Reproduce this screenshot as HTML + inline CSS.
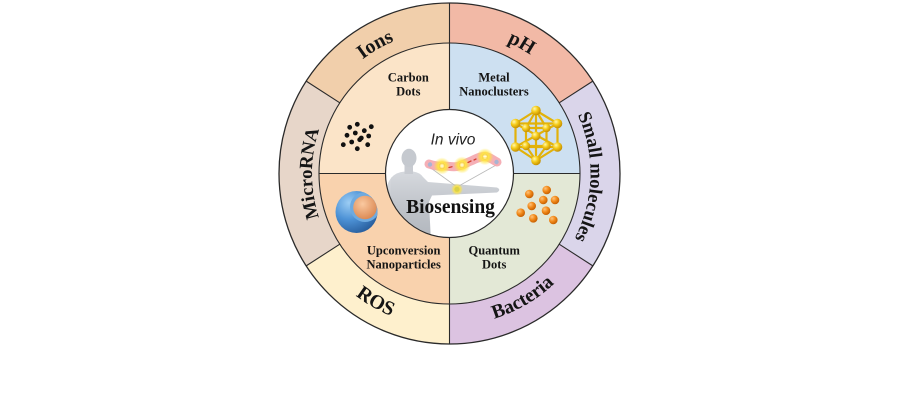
<!DOCTYPE html>
<html><head><meta charset="utf-8"><style>
html,body{margin:0;padding:0;background:#fff;}
svg{display:block;}
</style></head><body>
<svg width="900" height="400" viewBox="0 0 900 400" xmlns="http://www.w3.org/2000/svg">
<defs>
  <path id="pIons" d="M 449.5 317 A 143.5 143.5 0 0 1 449.5 30 A 143.5 143.5 0 0 1 449.5 317"/>
  <path id="pMicro" d="M 449.5 311 A 137.5 137.5 0 0 1 449.5 36 A 137.5 137.5 0 0 1 449.5 311"/>
  <path id="pSmall" d="M 449.5 314.5 A 141 141 0 0 1 449.5 32.5 A 141 141 0 0 1 449.5 314.5"/>
  <path id="pRos" d="M 449.5 19.5 A 154 154 0 0 0 449.5 327.5 A 154 154 0 0 0 449.5 19.5"/>
  <path id="pBact" d="M 449.5 21.5 A 152 152 0 0 0 449.5 325.5 A 152 152 0 0 0 449.5 21.5"/>
  <clipPath id="innerClip"><circle cx="449.5" cy="173.5" r="63.5"/></clipPath>
  <clipPath id="sphClip"><circle cx="356.5" cy="212" r="21"/></clipPath>
  <radialGradient id="gold" cx="35%" cy="32%" r="70%"><stop offset="0" stop-color="#fff8b0"/><stop offset="0.45" stop-color="#f6cd1c"/><stop offset="1" stop-color="#c48e00"/></radialGradient>
  <radialGradient id="orng" cx="35%" cy="32%" r="70%"><stop offset="0" stop-color="#ffc27a"/><stop offset="0.5" stop-color="#f28a1a"/><stop offset="1" stop-color="#c65e00"/></radialGradient>
  <radialGradient id="blue" cx="32%" cy="28%" r="80%"><stop offset="0" stop-color="#9ccdf4"/><stop offset="0.5" stop-color="#4d92d6"/><stop offset="1" stop-color="#265b9a"/></radialGradient>
  <radialGradient id="core" cx="40%" cy="35%" r="70%"><stop offset="0" stop-color="#fac9a0"/><stop offset="1" stop-color="#da8650"/></radialGradient>
  <radialGradient id="glow"><stop offset="0" stop-color="#fff8b0"/><stop offset="0.45" stop-color="#ffe53c" stop-opacity="0.95"/><stop offset="1" stop-color="#ffe53c" stop-opacity="0"/></radialGradient>
  <linearGradient id="body" x1="0" y1="0" x2="0" y2="1"><stop offset="0" stop-color="#d6d9de"/><stop offset="0.5" stop-color="#c0c4ca"/><stop offset="1" stop-color="#b0b5bc"/></linearGradient>
</defs>

<!-- outer ring wedges -->
<path d="M449.5 173.5 L449.5 3 A170.5 170.5 0 0 0 306.18 81.14 Z" fill="#f1cfab"/>
<path d="M449.5 173.5 L306.18 81.14 A170.5 170.5 0 0 0 306.18 265.86 Z" fill="#e7d6c9"/>
<path d="M449.5 173.5 L306.18 265.86 A170.5 170.5 0 0 0 449.5 344 Z" fill="#fef0cd"/>
<path d="M449.5 173.5 L449.5 344 A170.5 170.5 0 0 0 592.82 265.86 Z" fill="#dcc3e1"/>
<path d="M449.5 173.5 L592.82 265.86 A170.5 170.5 0 0 0 592.82 81.14 Z" fill="#dad5ea"/>
<path d="M449.5 173.5 L592.82 81.14 A170.5 170.5 0 0 0 449.5 3 Z" fill="#f2b9a6"/>

<!-- middle ring quarters -->
<path d="M449.5 173.5 L449.5 43 A130.5 130.5 0 0 0 319 173.5 Z" fill="#fbe4c8"/>
<path d="M449.5 173.5 L319 173.5 A130.5 130.5 0 0 0 449.5 304 Z" fill="#f9d2ad"/>
<path d="M449.5 173.5 L449.5 304 A130.5 130.5 0 0 0 580 173.5 Z" fill="#e3e8d6"/>
<path d="M449.5 173.5 L580 173.5 A130.5 130.5 0 0 0 449.5 43 Z" fill="#cde0f1"/>

<!-- inner circle -->
<circle cx="449.5" cy="173.5" r="64" fill="#ffffff"/>

<!-- carbon dots -->
<g fill="#111">
<circle cx="349.7" cy="127.3" r="2.4"/><circle cx="357.3" cy="124.3" r="2.4"/><circle cx="371.3" cy="126.7" r="2.4"/>
<circle cx="364.3" cy="130.7" r="2.4"/><circle cx="355.3" cy="133" r="2.4"/><circle cx="347" cy="135.3" r="2.4"/>
<circle cx="361.3" cy="138" r="2.4"/><circle cx="368.7" cy="136" r="2.4"/><circle cx="343.3" cy="144.7" r="2.4"/>
<circle cx="351.7" cy="142" r="2.4"/><circle cx="359.7" cy="139.7" r="2.4"/><circle cx="367.7" cy="144.7" r="2.4"/>
<circle cx="357.3" cy="148.7" r="2.4"/>
</g>

<!-- gold nanocluster -->
<g stroke="#e2b20a" stroke-width="2.2" stroke-linecap="round">
<line x1="536" y1="110.5" x2="515.5" y2="123.5"/><line x1="536" y1="110.5" x2="557.5" y2="123.5"/>
<line x1="536" y1="110.5" x2="526" y2="128"/><line x1="536" y1="110.5" x2="546.5" y2="128"/>
<line x1="536" y1="110.5" x2="536" y2="160.5"/>
<line x1="515.5" y1="123.5" x2="515.5" y2="147"/><line x1="557.5" y1="123.5" x2="557.5" y2="147"/>
<line x1="515.5" y1="123.5" x2="557.5" y2="147"/><line x1="557.5" y1="123.5" x2="515.5" y2="147"/>
<line x1="515.5" y1="123.5" x2="557.5" y2="123.5"/><line x1="515.5" y1="147" x2="557.5" y2="147"/>
<line x1="515.5" y1="147" x2="536" y2="160.5"/><line x1="557.5" y1="147" x2="536" y2="160.5"/>
<line x1="526" y1="128" x2="526" y2="146"/><line x1="546.5" y1="128" x2="546.5" y2="146"/>
<line x1="526" y1="146" x2="536" y2="160.5"/><line x1="546.5" y1="146" x2="536" y2="160.5"/>
<line x1="526" y1="128" x2="546.5" y2="128"/><line x1="526" y1="146" x2="546.5" y2="146"/>
</g>
<g fill="url(#gold)">
<circle cx="526" cy="128" r="4.2"/><circle cx="546.5" cy="128" r="4.2"/>
<circle cx="526" cy="146" r="4.2"/><circle cx="546.5" cy="146" r="4.2"/>
<circle cx="536" cy="136" r="4.5"/>
<circle cx="536" cy="110.5" r="4.8"/><circle cx="515.5" cy="123.5" r="4.8"/><circle cx="557.5" cy="123.5" r="4.8"/>
<circle cx="515.5" cy="147" r="4.8"/><circle cx="557.5" cy="147" r="4.8"/><circle cx="536" cy="160.5" r="4.8"/>
</g>

<!-- quantum dots -->
<g fill="url(#orng)">
<circle cx="546.7" cy="190" r="4.3"/><circle cx="529.3" cy="194" r="4.3"/><circle cx="543.3" cy="200" r="4.3"/>
<circle cx="555" cy="200" r="4.3"/><circle cx="531.7" cy="206" r="4.3"/><circle cx="546" cy="210.7" r="4.3"/>
<circle cx="520.7" cy="212.7" r="4.3"/><circle cx="533.3" cy="218.3" r="4.3"/><circle cx="553.3" cy="220" r="4.3"/>
</g>

<!-- UCNP sphere -->
<circle cx="356.5" cy="212" r="21" fill="url(#blue)"/>
<g clip-path="url(#sphClip)">
  <circle cx="365" cy="207" r="15" fill="#6eaae0"/>
  <circle cx="365" cy="207.5" r="11.8" fill="url(#core)"/>
</g>

<!-- human figure & chain -->
<g clip-path="url(#innerClip)">
  <path d="M392 177 Q386 183 386 196 L384 242 L395 242 L396 200 Z" fill="url(#body)"/>
  <path d="M391 178 Q396 172 405 171.5 L413 171.5 Q420 172.5 423 177 L428 182 L497 187.5 Q501.5 189.8 497 192.5 L432 195.5 L429 202 L431 242 L389 242 L391 208 Z" fill="url(#body)"/>
  <rect x="404.5" y="164" width="8.5" height="10" fill="#c8cbd1"/>
  <ellipse cx="409" cy="158" rx="7.5" ry="9.2" fill="#c5c9cf"/>
  <path d="M428 166 L457 187 L498 164" fill="none" stroke="#b9b9b9" stroke-width="0.8"/>
  <circle cx="457" cy="189.3" r="6" fill="url(#glow)"/>
  <circle cx="457" cy="189.3" r="2.6" fill="#d9d04a"/>
  <path d="M429 164 C435 166 438 166.5 442 166 S452 167.5 457 166.5 S466 163 471 161 S480 156 485 156.5 S493 160 497 162" fill="none" stroke="#f4a6ae" stroke-width="9" stroke-linecap="round" opacity="0.9"/>
  <circle cx="442" cy="166" r="8.5" fill="url(#glow)"/>
  <circle cx="462" cy="165" r="8.5" fill="url(#glow)"/>
  <circle cx="485" cy="156.7" r="8.5" fill="url(#glow)"/>
  <g fill="#ffe56a" stroke="#f1c84a" stroke-width="0.6">
    <circle cx="442" cy="166" r="2.8"/><circle cx="462" cy="165" r="2.8"/><circle cx="485" cy="156.7" r="2.8"/>
  </g>
  <g stroke="#fff" stroke-width="0.7">
    <line x1="440.3" y1="166" x2="443.7" y2="166"/><line x1="442" y1="164.3" x2="442" y2="167.7"/>
    <line x1="460.3" y1="165" x2="463.7" y2="165"/><line x1="462" y1="163.3" x2="462" y2="166.7"/>
    <line x1="483.3" y1="156.7" x2="486.7" y2="156.7"/><line x1="485" y1="155" x2="485" y2="158.4"/>
  </g>
  <g stroke="#d5402f" stroke-width="1.3" stroke-linecap="round">
    <line x1="449" y1="167.5" x2="452" y2="166.8"/><line x1="468" y1="162.5" x2="471" y2="161"/><line x1="474" y1="160" x2="476" y2="159"/>
  </g>
  <circle cx="430" cy="164.5" r="2.2" fill="#a9b4d2"/>
  <circle cx="496.5" cy="162" r="2.2" fill="#a9b4d2"/>
</g>

<!-- lines -->
<g fill="none" stroke="#2a2a2a">
  <circle cx="449.5" cy="173.5" r="170.5" stroke-width="1.3"/>
  <circle cx="449.5" cy="173.5" r="130.5" stroke-width="1.1"/>
  <circle cx="449.5" cy="173.5" r="64" stroke-width="1.2"/>
  <line x1="449.5" y1="3" x2="449.5" y2="109.5" stroke-width="1.1"/>
  <line x1="449.5" y1="237.5" x2="449.5" y2="344" stroke-width="1.1"/>
  <line x1="319" y1="173.5" x2="385.5" y2="173.5" stroke-width="1.1"/>
  <line x1="513.5" y1="173.5" x2="580" y2="173.5" stroke-width="1.1"/>
  <line x1="306.18" y1="81.14" x2="339.8" y2="102.81" stroke-width="1.1"/>
  <line x1="306.18" y1="265.86" x2="339.8" y2="244.19" stroke-width="1.1"/>
  <line x1="592.82" y1="81.14" x2="559.2" y2="102.81" stroke-width="1.1"/>
  <line x1="592.82" y1="265.86" x2="559.2" y2="244.19" stroke-width="1.1"/>
</g>

<!-- outer ring labels -->
<g font-family="'Liberation Serif', serif" font-weight="bold" fill="#151515" text-anchor="middle">
  <text font-size="20"><textPath href="#pIons" startOffset="41.67%">Ions</textPath></text>
  <text font-size="20"><textPath href="#pIons" startOffset="58.06%">pH</textPath></text>
  <text font-size="18.8"><textPath href="#pMicro" startOffset="25%">MicroRNA</textPath></text>
  <text font-size="18.7"><textPath href="#pSmall" startOffset="75.4%">Small molecules</textPath></text>
  <text font-size="20"><textPath href="#pRos" startOffset="41.67%">ROS</textPath></text>
  <text font-size="19.5"><textPath href="#pBact" startOffset="58.44%">Bacteria</textPath></text>
</g>

<!-- middle ring labels -->
<g font-family="'Liberation Serif', serif" font-weight="bold" font-size="12.5" fill="#151515" text-anchor="middle">
  <text x="408.3" y="81.3">Carbon</text>
  <text x="408.3" y="95.3">Dots</text>
  <text x="494" y="81.3">Metal</text>
  <text x="494" y="95.3">Nanoclusters</text>
  <text x="403.7" y="254.5">Upconversion</text>
  <text x="403.7" y="268.5">Nanoparticles</text>
  <text x="494.2" y="254.5">Quantum</text>
  <text x="494.2" y="268.5">Dots</text>
</g>

<!-- center labels -->
<text x="453" y="144.3" font-family="'Liberation Sans', sans-serif" font-style="italic" font-size="15.5" fill="#222" text-anchor="middle">In vivo</text>
<text x="450.5" y="213" font-family="'Liberation Serif', serif" font-weight="bold" font-size="19.5" fill="#111" text-anchor="middle">Biosensing</text>
</svg>
</body></html>
